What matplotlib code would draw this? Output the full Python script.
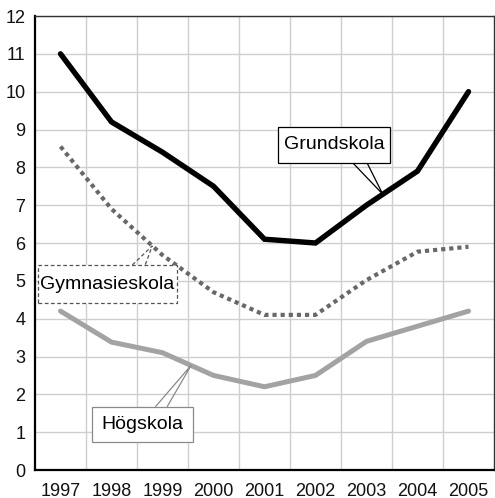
import numpy as np
import matplotlib
matplotlib.use("Agg")
import matplotlib.pyplot as plt
from matplotlib.patches import Rectangle, Polygon

years = ["1997", "1998", "1999", "2000", "2001", "2002", "2003", "2004", "2005"]
grundskola = [11.0, 9.2, 8.4, 7.5, 6.1, 6.0, 7.0, 7.9, 10.0]
gymnasieskola = [8.55, 6.9, 5.68, 4.7, 4.1, 4.1, 5.02, 5.77, 5.9]
hogskola = [4.2, 3.38, 3.1, 2.5, 2.2, 2.5, 3.4, 3.8, 4.2]
yticks = list(range(0, 13))

plt.rcParams['font.family'] = ['Liberation Sans', 'DejaVu Sans']

fig = plt.figure(figsize=(4.95, 4.98), dpi=100)
ax = fig.add_axes([35/495, 28/498, 459/495, 454/498])

x = np.arange(len(years))
ax.set_xlim(-0.5, len(years) - 0.5)
ax.set_ylim(0, 12)

# grid
for gx in np.arange(0.5, len(years) - 0.5, 1):
    ax.axvline(gx, color='#cfcfcf', lw=1.0, zorder=0)
for gy in yticks[1:]:
    ax.axhline(gy, color='#cfcfcf', lw=1.0, zorder=0)

ax.plot(x, hogskola, color='#a3a3a3', lw=3.6, solid_capstyle='round', solid_joinstyle='round', zorder=3)
ax.plot(x, gymnasieskola, color='#686868', lw=3.0, linestyle=(0, (1.0, 0.95)),
        dash_capstyle='butt', zorder=3)
ax.plot(x, grundskola, color='black', lw=3.9, solid_capstyle='round', solid_joinstyle='miter', zorder=4)

ax.set_xticks(x)
ax.set_xticklabels(years)
ax.set_yticks(yticks)
ax.tick_params(axis='both', length=0, labelsize=13, colors='#111111')
ax.tick_params(axis='x', pad=9)
ax.tick_params(axis='y', pad=7)

for s in ['left', 'bottom']:
    ax.spines[s].set_linewidth(1.6)
    ax.spines[s].set_color('black')
for s in ['top', 'right']:
    ax.spines[s].set_linewidth(1.0)
    ax.spines[s].set_color('#333333')


def callout(text, series, x0, x1, y0, y1, bx0, bx1, tx, top, edge, ls):
    ty = float(np.interp(tx, x, series))
    by = y1 if top else y0
    wedge = Polygon([(bx0, by), (tx, ty), (bx1, by)], closed=False, fill=False,
                    edgecolor=edge, lw=0.9, linestyle=ls, zorder=5)
    ax.add_patch(wedge)
    rect = Rectangle((x0, y0), x1 - x0, y1 - y0, facecolor='white', edgecolor=edge,
                     lw=0.9, linestyle=ls, zorder=6)
    ax.add_patch(rect)
    ax.text((x0 + x1) / 2, (y0 + y1) / 2, text, ha='center', va='center',
            fontsize=14, color='black', zorder=7)


callout("Grundskola", grundskola, 4.27, 6.46, 8.12, 9.07, 5.73, 6.01, 6.32, False, 'black', '-')
callout("Gymnasieskola", gymnasieskola, -0.45, 2.29, 4.41, 5.42, 1.41, 1.66, 1.80, True, '#555555', (0, (3, 2)))
callout("Högskola", hogskola, 0.61, 2.60, 0.74, 1.67, 1.86, 2.09, 2.56, True, '#8a8a8a', '-')

fig.savefig("out.png", dpi=100)
